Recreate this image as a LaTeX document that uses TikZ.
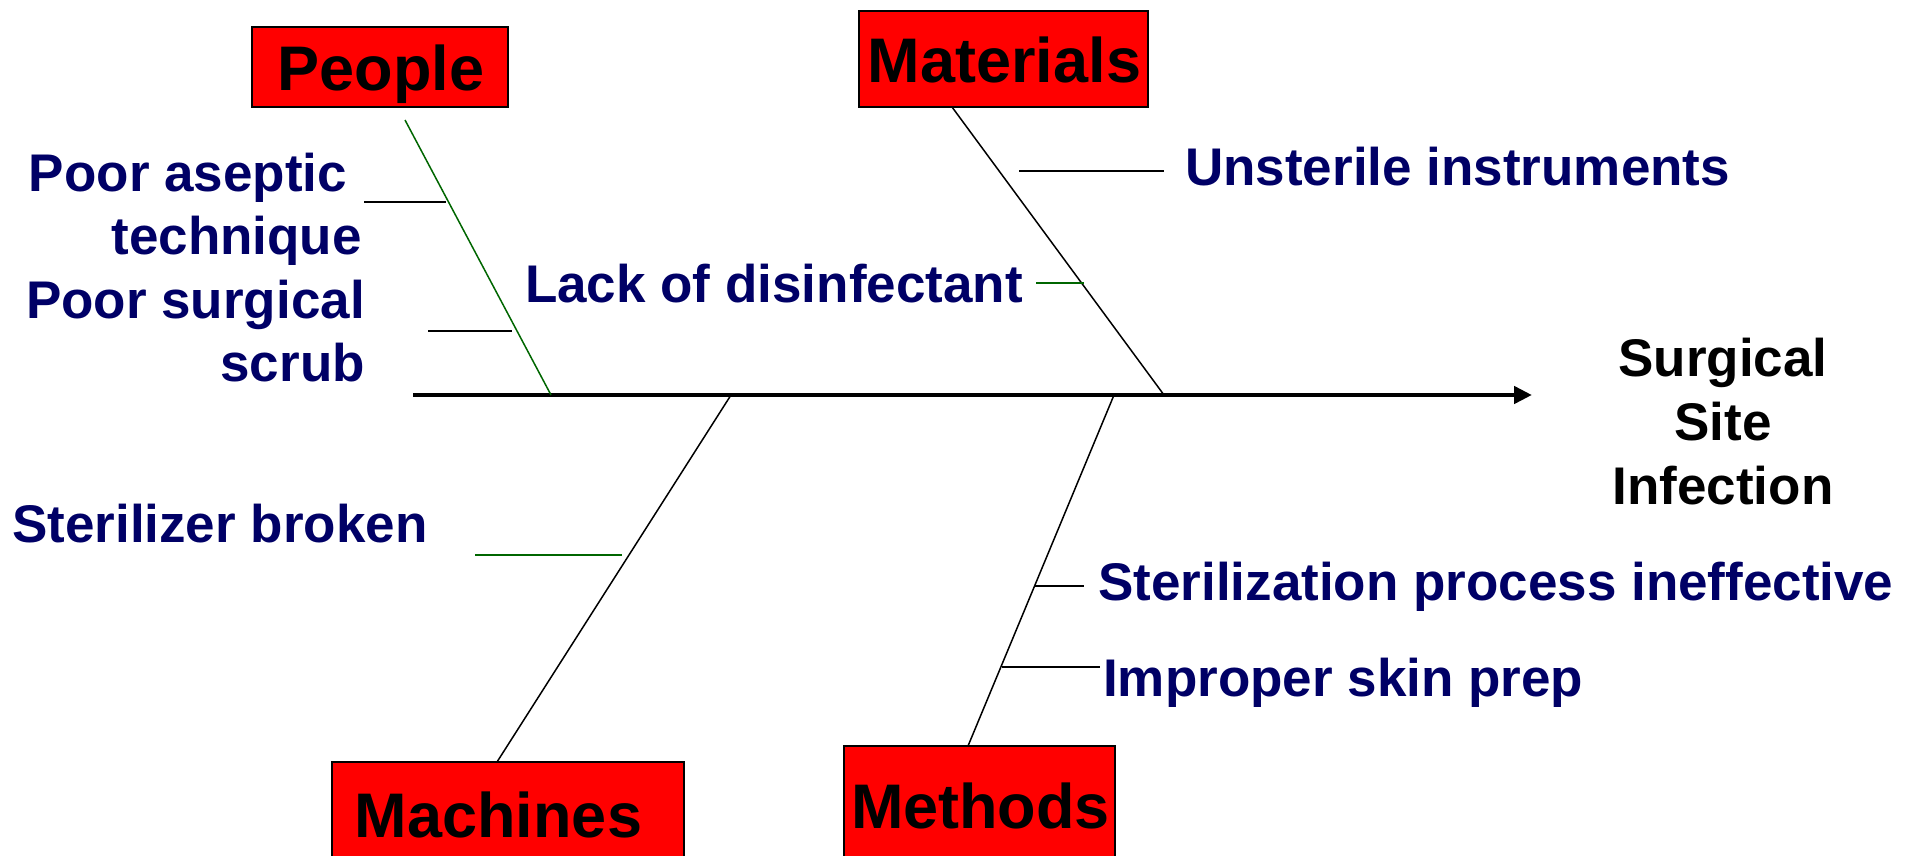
\documentclass[tikz,border=0pt]{standalone}
\usepackage{fontspec}
\setmainfont{Liberation Sans}
\usetikzlibrary{arrows.meta}
\definecolor{causeblue}{RGB}{0,0,102}
\definecolor{bonegreen}{RGB}{0,102,0}
\definecolor{boxred}{RGB}{255,0,0}

\begin{document}
\begin{tikzpicture}[x=1pt,y=-1pt,
  catbox/.style={draw=black, line width=2pt, fill=boxred, inner sep=0pt},
  cattitle/.style={font=\fontsize{63}{63}\selectfont\bfseries, text=black, inner sep=0pt, anchor=base},
  cause/.style={font=\fontsize{53}{63}\selectfont\bfseries, text=causeblue, inner sep=0pt},
  effect/.style={font=\fontsize{53}{64}\selectfont\bfseries, text=black, inner sep=0pt, align=center},
  bone/.style={line width=1.5pt, draw=black},
  greenbone/.style={line width=1.5pt, draw=bonegreen},
  tick/.style={line width=2pt, draw=black},
  greentick/.style={line width=1.5pt, draw=bonegreen},
  spine/.style={line width=4.5pt, draw=black, -{Triangle[length=18pt,width=17pt]}}
]
\useasboundingbox (0,0) rectangle (1919,856);
\clip (0,0) rectangle (1919,856);

% category boxes
\node[catbox, minimum width=256pt, minimum height=80pt] (people) at (380,67) {};
\node[catbox, minimum width=289pt, minimum height=96pt] (materials) at (1003.5,59) {};
\node[catbox, minimum width=352pt, minimum height=99pt] (machines) at (508,811.5) {};
\node[catbox, minimum width=271pt, minimum height=120pt] (methods) at (979.5,806) {};
\node[cattitle] (peopletxt) at (381,91) {People};
\node[cattitle] (materialstxt) at (1004.5,83) {Materials};
\node[cattitle] (machinestxt) at (498.5,837) {Machines};
\node[cattitle] (methodstxt) at (980.5,828) {Methods};

% spine and the points where the bones meet it
\coordinate (spineL) at (413,395);
\coordinate (spineR) at (1532,395);
\coordinate (pj) at (551,395);
\coordinate (mj) at (1164,395);
\coordinate (mcj) at (731,395);
\coordinate (mtj) at (1114,395);
\coordinate (pt) at (405,120);
\coordinate (mt) at (952,107);
\coordinate (mcb) at (497,762);
\coordinate (mtb) at (968,746);

\draw[spine] (spineL) -- (spineR);
\draw[greenbone] (pt) -- (pj);
\draw[bone] (mt) -- (mj);
\draw[bone] (mcj) -- (mcb);
\draw[bone] (mtj) -- (mtb);

% cause ticks
\coordinate (a1) at (364,202);  \coordinate (a2) at (446,202);
\coordinate (s1) at (428,331);  \coordinate (s2) at (512,331);
\coordinate (u1) at (1019,171); \coordinate (u2) at (1164,171);
\coordinate (l1) at (1036,283); \coordinate (l2) at (1084,283);
\coordinate (b1) at (475,555);  \coordinate (b2) at (622,555);
\coordinate (p1) at (1035,586); \coordinate (p2) at (1084,586);
\coordinate (i1) at (1002,667); \coordinate (i2) at (1100,667);
\draw[tick] (a1) -- (a2);
\draw[tick] (s1) -- (s2);
\draw[tick] (u1) -- (u2);
\draw[greentick] (l1) -- (l2);
\draw[greentick] (b1) -- (b2);
\draw[tick] (p1) -- (p2);
\draw[tick] (i1) -- (i2);

% cause labels (multi-line nodes sit on their last baseline)
\node[cause, anchor=base east, align=right] (tasep) at (362,254) {Poor aseptic\hspace*{0.278em}\\technique};
\node[cause, anchor=base east, align=right] (tsurg) at (365,381) {Poor surgical\\scrub};
\node[cause, anchor=base east] (tlack) at (1023,302) {Lack of disinfectant};
\node[cause, anchor=base west] (tunst) at (1185,185) {Unsterile instruments};
\node[cause, anchor=base west] (tsterb) at (12,542) {Sterilizer broken};
\node[cause, anchor=base west] (tsterp) at (1098,600) {Sterilization process ineffective};
\node[cause, anchor=base west] (timpr) at (1103,696) {Improper skin prep};

% effect
\node[effect, anchor=base] (effect) at (1723,504) {Surgical\\Site\\Infection};
\end{tikzpicture}
\end{document}
